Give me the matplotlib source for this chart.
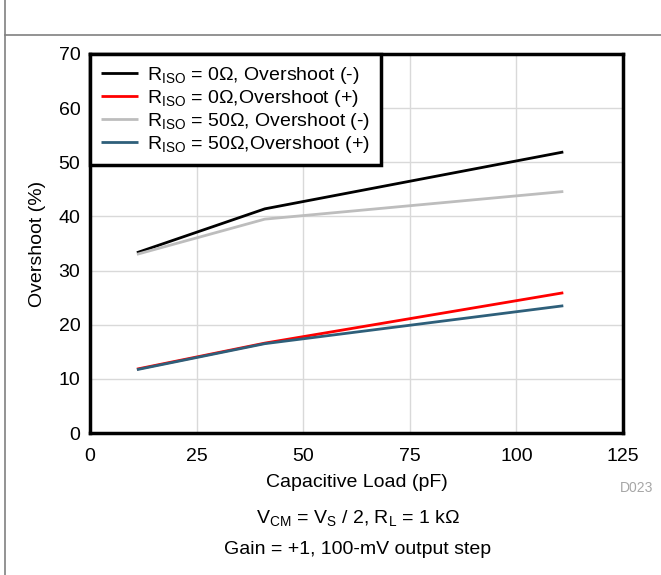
import matplotlib
matplotlib.use('Agg')
import matplotlib.pyplot as plt
from matplotlib.lines import Line2D

plt.rcParams['font.family'] = 'Liberation Sans'
plt.rcParams['mathtext.fontset'] = 'custom'
plt.rcParams['mathtext.rm'] = 'Liberation Sans'
plt.rcParams['mathtext.it'] = 'Liberation Sans'

# Capacitive load (pF)
cap_load = [11, 41, 111]
# Overshoot (%)
r0_neg = [33.3, 41.4, 51.9]
r0_pos = [11.8, 16.6, 25.9]
r50_neg = [33.0, 39.5, 44.6]
r50_pos = [11.7, 16.5, 23.5]

labels = [
    r'R$_{\mathrm{ISO}}$ = 0$\Omega$, Overshoot (-)',
    r'R$_{\mathrm{ISO}}$ = 0$\Omega$,Overshoot (+)',
    r'R$_{\mathrm{ISO}}$ = 50$\Omega$, Overshoot (-)',
    r'R$_{\mathrm{ISO}}$ = 50$\Omega$,Overshoot (+)',
]
colors = ['#000000', '#ff0000', '#bdbdbd', '#2e5f7a']
x_ticks = [0, 25, 50, 75, 100, 125]
y_ticks = [0, 10, 20, 30, 40, 50, 60, 70]

fs = 14

fig = plt.figure(figsize=(6.61, 5.75), dpi=100)
ax = fig.add_axes([90 / 661, (575 - 433) / 575, 533 / 661, 379 / 575])

series = [r0_neg, r0_pos, r50_neg, r50_pos]
for ys, lab, c in zip(series, labels, colors):
    ax.plot(cap_load, ys, color=c, lw=2, label=lab, solid_capstyle='butt')

ax.set_xlim(0, 125)
ax.set_ylim(0, 70)
ax.set_xticks(x_ticks)
ax.set_yticks(y_ticks)
ax.tick_params(axis='x', length=0, labelsize=fs, pad=11)
ax.tick_params(axis='y', length=0, labelsize=fs, pad=7)
ax.grid(True, color='#d9d9d9', lw=1)
ax.set_axisbelow(True)
for s in ax.spines.values():
    s.set_linewidth(2.5)
    s.set_color('black')

ax.set_xlabel('Capacitive Load (pF)', fontsize=fs, labelpad=6.5)
ax.set_ylabel('Overshoot (%)', fontsize=fs, labelpad=9)

leg = ax.legend(loc='upper left', bbox_to_anchor=(0.0, 1.0), fontsize=fs,
                frameon=True, fancybox=False, borderaxespad=0,
                handlelength=1.9, labelspacing=0.1, borderpad=0.55,
                handletextpad=0.5)
leg.get_frame().set_edgecolor('black')
leg.get_frame().set_linewidth(2.5)
leg.get_frame().set_alpha(1)

fig.text(637 / 661, 1 - 488 / 575, 'D023', color='#a6a6a6', fontsize=10,
         ha='center', va='center')
fig.text(358 / 661, 1 - 518 / 575,
         r'V$_{\mathrm{CM}}$ = V$_{\mathrm{S}}$ / 2, R$_{\mathrm{L}}$ = 1 k$\Omega$',
         fontsize=fs, ha='center', va='center')
fig.text(358 / 661, 1 - 550 / 575, 'Gain = +1, 100-mV output step',
         fontsize=fs, ha='center', va='center')

# page border lines
fig.add_artist(Line2D([5 / 661, 5 / 661], [0, 1], color='#808080', lw=1.2))
fig.add_artist(Line2D([5 / 661, 1], [1 - 35 / 575, 1 - 35 / 575],
                      color='#808080', lw=1.2))

fig.savefig('out.png', dpi=100)
